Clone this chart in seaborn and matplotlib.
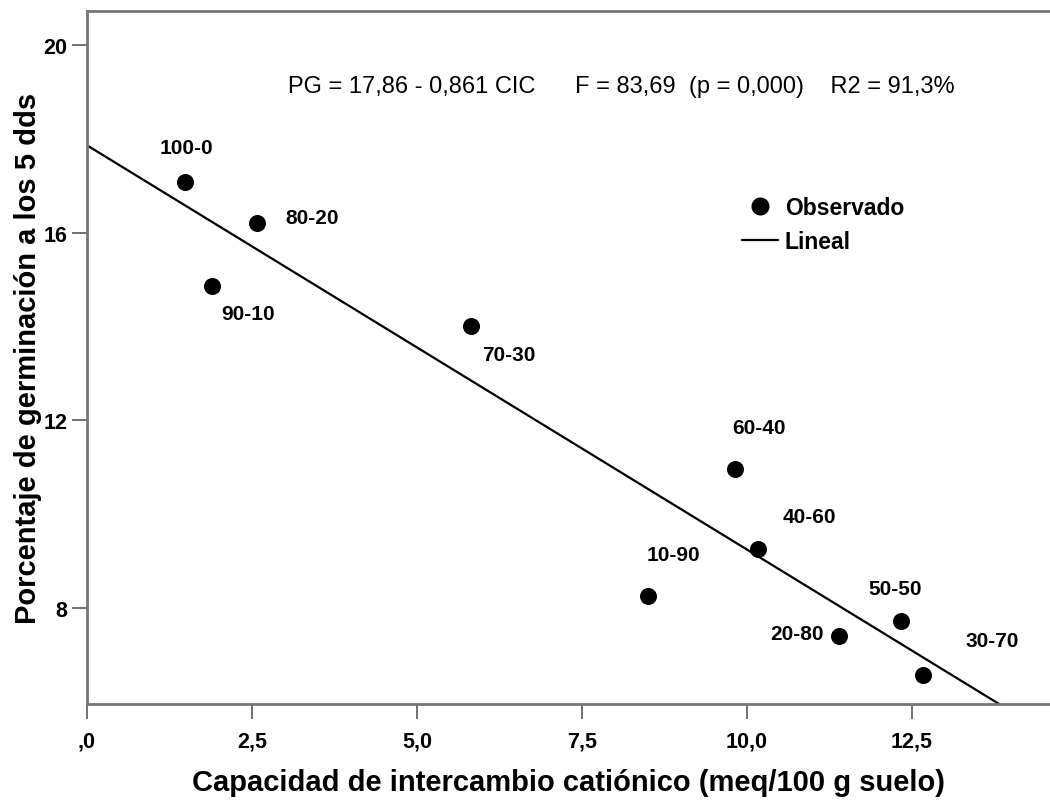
"""
Dispersión CIC vs porcentaje de germinación con recta de regresión lineal.
"""

import matplotlib.pyplot as plt
import numpy as np
import pandas as pd
import seaborn as sns
from matplotlib.lines import Line2D
from matplotlib.ticker import FuncFormatter

# --- datos ---
tratamientos = ['100-0', '80-20', '90-10', '70-30', '60-40',
                '40-60', '10-90', '50-50', '20-80', '30-70']
cic = [1.48, 2.57, 1.90, 5.82, 9.82, 10.16, 8.50, 12.33, 11.39, 12.66]
germinacion = [17.07, 16.21, 14.87, 14.02, 10.97, 9.27, 8.26, 7.74, 7.41, 6.57]
# desplazamiento de cada etiqueta respecto al punto (en puntos tipográficos)
etiqueta_dx = [1, 40, 26, 27, 17, 37, 18, -4, -30, 50]
etiqueta_dy = [25, 4, -20, -21, 30, 23, 30, 23, 2, 25]

intercepto = 17.86
pendiente = -0.861
texto_modelo = 'PG = 17,86 - 0,861 CIC      F = 83,69  (p = 0,000)    R2 = 91,3%'

df = pd.DataFrame({'tratamiento': tratamientos, 'cic': cic, 'pg': germinacion})

sns.set_theme(style='white')
FUENTE = ['Liberation Sans', 'DejaVu Sans']
plt.rcParams['font.family'] = FUENTE
plt.rcParams['text.color'] = 'black'
plt.rcParams['axes.labelcolor'] = 'black'
plt.rcParams['xtick.labelcolor'] = 'black'
plt.rcParams['ytick.labelcolor'] = 'black'

fig = plt.figure(figsize=(10.5, 8.04), dpi=100)
ax = fig.add_axes([0.0829, 0.1236, 0.9171, 0.8614])

XMIN, XMAX = 0, 14.59
YMIN, YMAX = 5.97, 20.72

# recta ajustada
x_lin = np.array([XMIN, XMAX])
sns.lineplot(x=x_lin, y=intercepto + pendiente * x_lin, ax=ax,
             color='black', linewidth=1.6)

sns.scatterplot(data=df, x='cic', y='pg', ax=ax, color='black',
                s=150, edgecolor='black', linewidth=0, zorder=3)

for t, x, y, dx, dy in zip(tratamientos, cic, germinacion, etiqueta_dx, etiqueta_dy):
    ax.annotate(t, (x, y), xytext=(dx, dy), textcoords='offset points',
                ha='center', va='center', fontsize=15, fontweight='bold')

ax.text(0.2087, 0.892, texto_modelo, transform=ax.transAxes, ha='left', va='center',
        fontsize=17)

ax.set_xlim(XMIN, XMAX)
ax.set_ylim(YMIN, YMAX)
ax.set_xticks([0, 2.5, 5.0, 7.5, 10.0, 12.5])
ax.set_yticks([8, 12, 16, 20])
ax.xaxis.set_major_formatter(FuncFormatter(
    lambda v, p: ',0' if v == 0 else f'{v:.1f}'.replace('.', ',')))

ax.tick_params(axis='both', direction='out', length=11, width=1.3, color='#666666',
               labelsize=15.5, bottom=True, left=True, pad=3)
ax.tick_params(axis='x', pad=8)
for lab in ax.get_xticklabels() + ax.get_yticklabels():
    lab.set_fontweight('bold')

for nombre in ['left', 'bottom', 'top']:
    ax.spines[nombre].set_color('#777777')
    ax.spines[nombre].set_linewidth(2)
ax.spines['right'].set_visible(False)

ax.set_xlabel('Capacidad de intercambio catiónico (meq/100 g suelo)',
              fontsize=21, fontweight='bold', labelpad=12)
ax.set_ylabel('Porcentaje de germinación a los 5 dds', fontsize=21,
              fontweight='bold', labelpad=1)

leyenda = [
    Line2D([], [], marker='o', linestyle='none', color='black', markersize=12),
    Line2D([], [], color='black', linewidth=1.6),
]
ax.legend(leyenda, ['Observado', 'Lineal'], loc='upper left',
          bbox_to_anchor=(0.680, 0.733), frameon=False, borderpad=0,
          borderaxespad=0, handlelength=1.57, handletextpad=0.3,
          labelspacing=0.48, prop={'size': 16.5, 'weight': 'bold'})

fig.savefig('out.png', dpi=100)
